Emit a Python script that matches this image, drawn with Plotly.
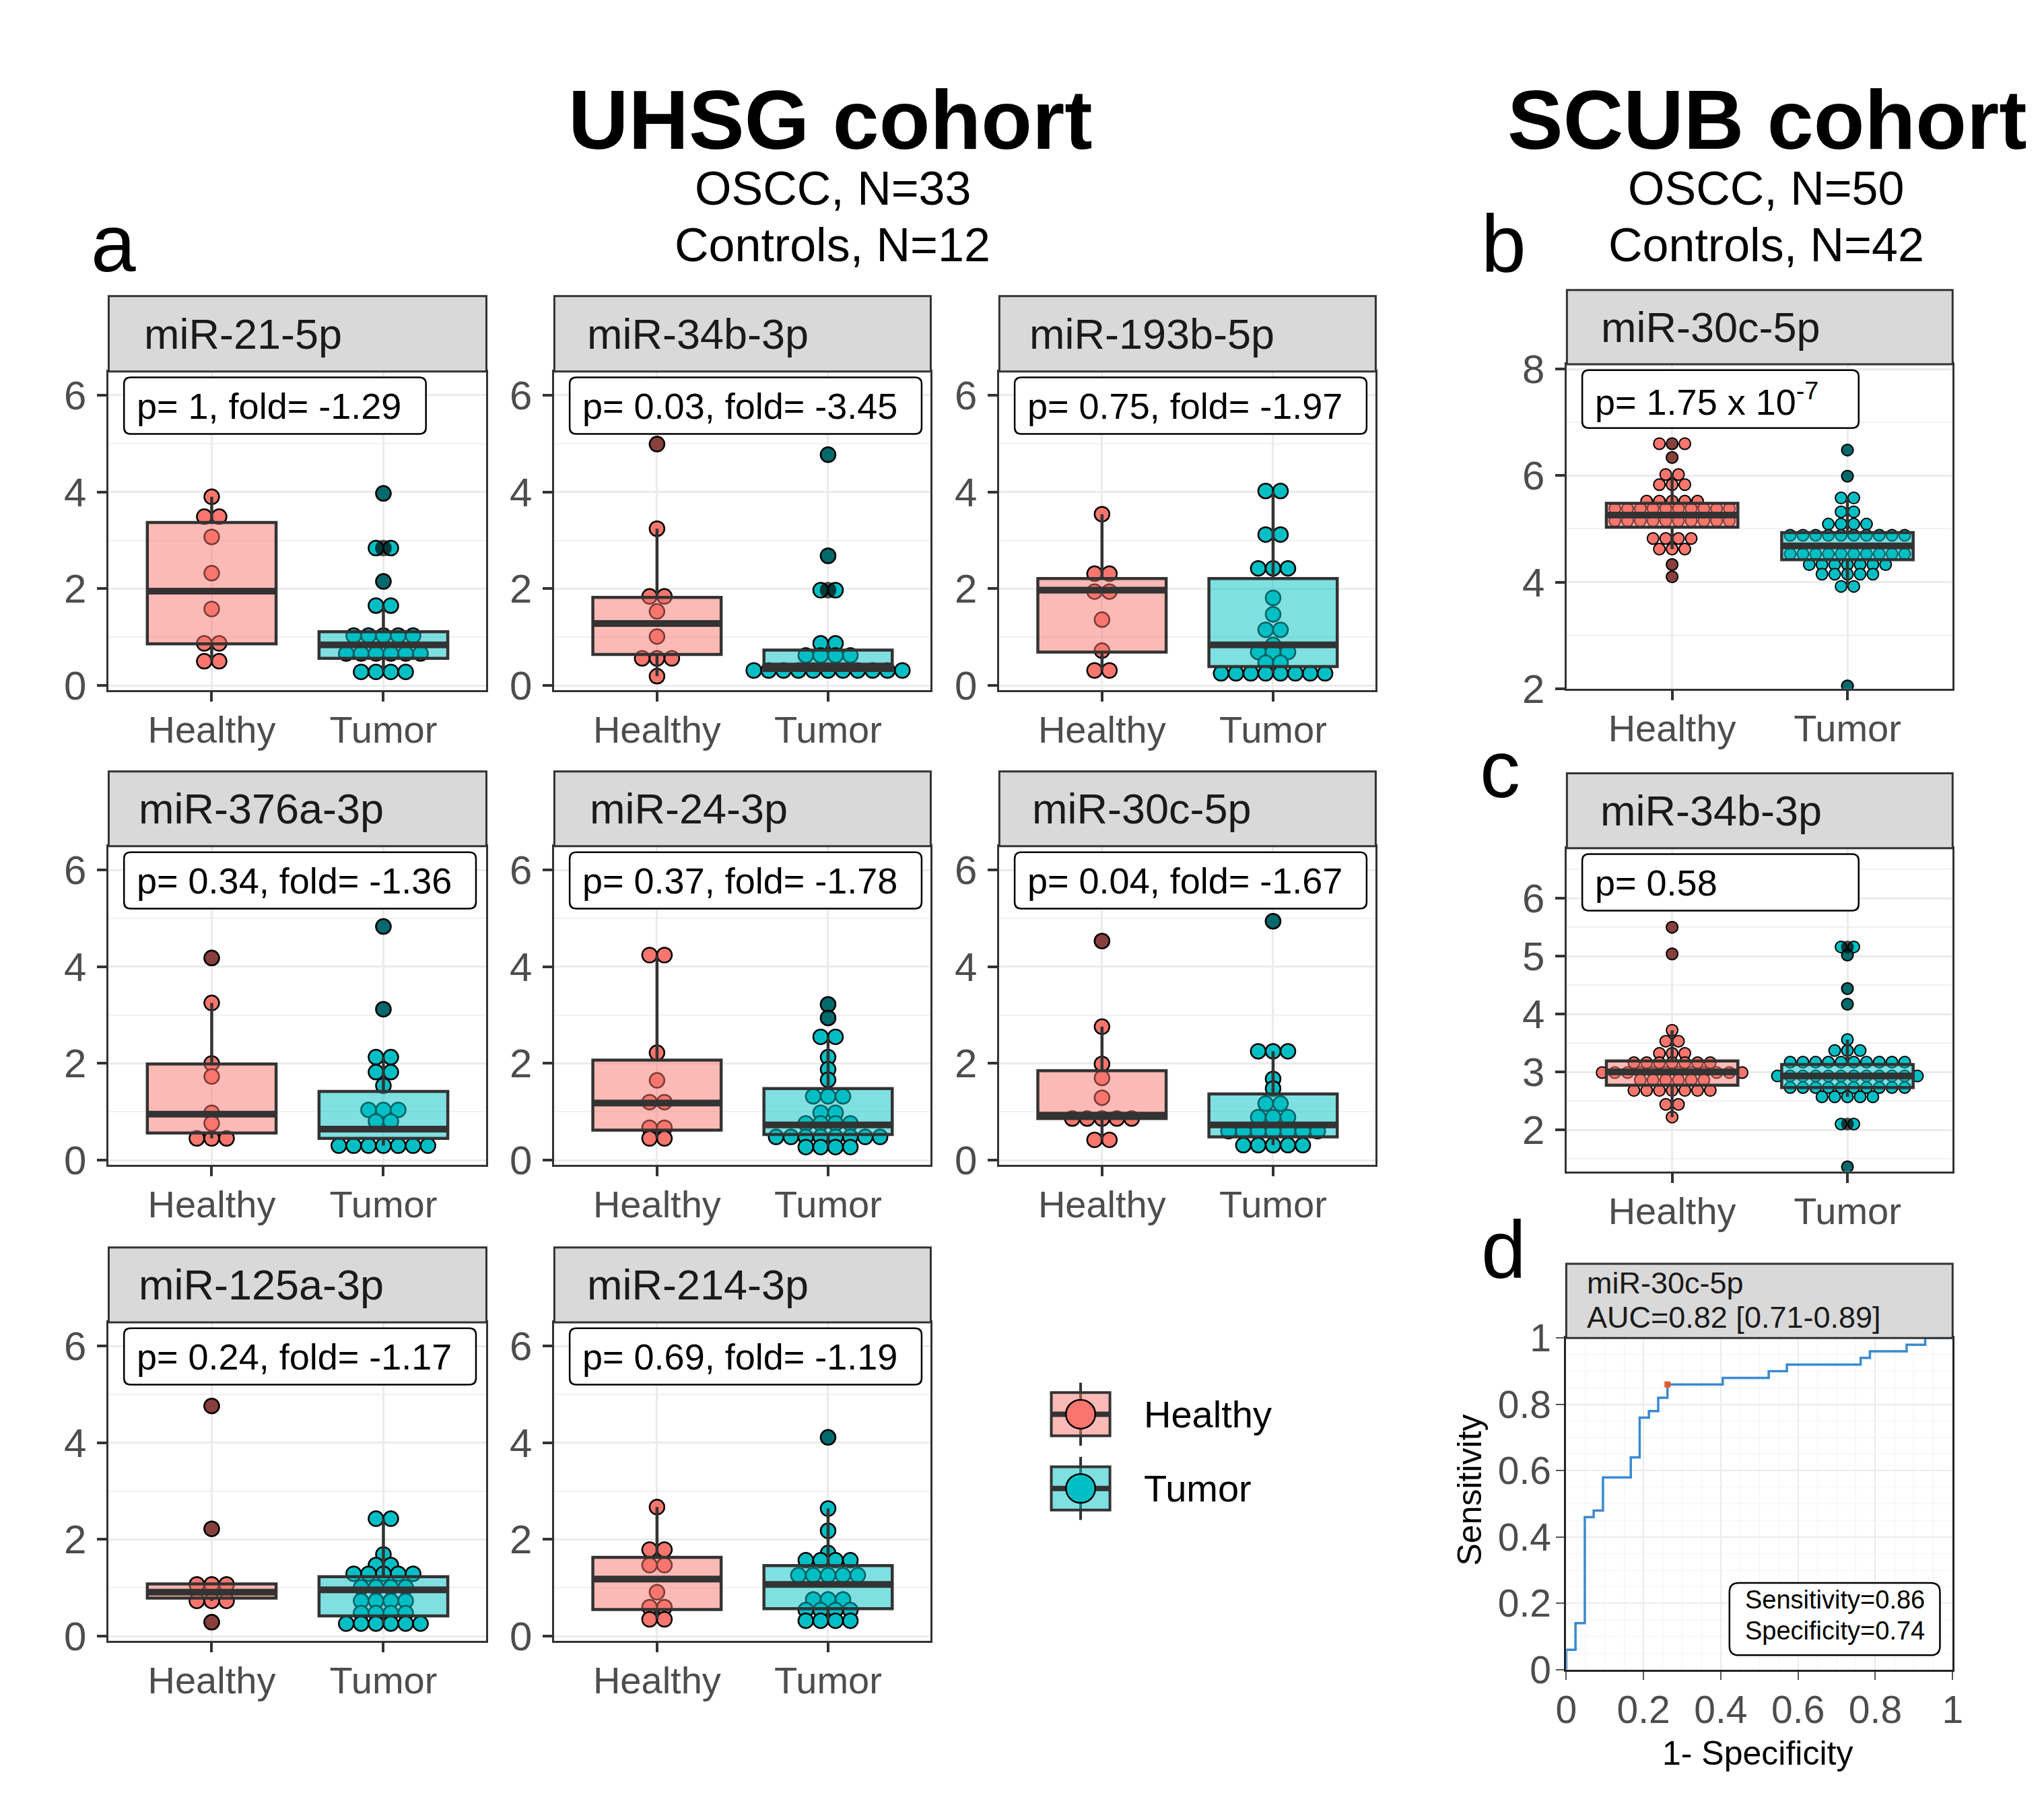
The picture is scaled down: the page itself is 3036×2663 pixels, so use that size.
import plotly.graph_objects as go

# ------------------------------------------------------------------ data
groups = ["Healthy", "Tumor"]

# UHSG cohort (panel a) -- facet titles and annotation values
uhsg_mirs = ["miR-21-5p", "miR-34b-3p", "miR-193b-5p", "miR-376a-3p",
             "miR-24-3p", "miR-30c-5p", "miR-125a-3p", "miR-214-3p"]
uhsg_p = ["1", "0.03", "0.75", "0.34", "0.37", "0.04", "0.24", "0.69"]
uhsg_fold = ["-1.29", "-3.45", "-1.97", "-1.36", "-1.78", "-1.67", "-1.17", "-1.19"]

# dot-plot bins: (value, number of stacked dots)
miR21_H_bins = [(3.90, 1), (3.49, 2), (3.07, 1), (2.32, 1), (1.58, 1), (0.87, 2), (0.50, 2)]
miR21_T_bins = [(3.97, 1), (2.84, 2), (2.15, 1), (1.65, 2), (1.03, 5), (0.66, 6), (0.28, 4)]
miR34b_H_bins = [(4.99, 1), (3.24, 1), (1.84, 2), (1.53, 1), (1.01, 1), (0.56, 3), (0.19, 1)]
miR34b_T_bins = [(4.77, 1), (2.68, 1), (1.97, 2), (0.87, 2), (0.62, 4), (0.31, 11)]
miR193b_H_bins = [(3.54, 1), (2.31, 2), (1.94, 2), (1.36, 1), (0.72, 1), (0.31, 2)]
miR193b_T_bins = [(4.02, 2), (3.12, 2), (2.42, 3), (1.81, 1), (1.47, 1), (1.15, 2), (0.84, 1),
                  (0.69, 3), (0.47, 2), (0.25, 8)]
miR376a_H_bins = [(4.18, 1), (3.25, 1), (2.00, 1), (1.73, 1), (0.98, 1), (0.76, 1), (0.45, 3)]
miR376a_T_bins = [(4.83, 1), (3.12, 1), (2.13, 2), (1.82, 2), (1.54, 1), (1.04, 3), (0.80, 2), (0.30, 7)]
miR24_H_bins = [(4.24, 2), (2.22, 1), (1.65, 1), (1.20, 2), (0.67, 2), (0.45, 2)]
miR24_T_bins = [(3.22, 1), (2.94, 1), (2.55, 2), (2.13, 1), (1.88, 1), (1.66, 1), (1.32, 3),
                (0.98, 2), (0.76, 4), (0.48, 8), (0.27, 4)]
miR30c_H_bins = [(4.53, 1), (2.76, 1), (1.99, 1), (1.70, 1), (1.29, 1), (0.86, 5), (0.42, 2)]
miR30c_T_bins = [(4.94, 1), (2.25, 3), (1.68, 1), (1.48, 1), (1.17, 2), (0.89, 3), (0.60, 7), (0.31, 5)]
miR125a_H_bins = [(4.76, 1), (2.22, 1), (1.07, 3), (0.73, 3), (0.29, 1)]
miR125a_T_bins = [(2.43, 2), (1.69, 1), (1.47, 2), (1.29, 5), (1.01, 4), (0.73, 4), (0.48, 4), (0.26, 6)]
miR214_H_bins = [(2.67, 1), (1.79, 2), (1.47, 2), (0.91, 1), (0.60, 2), (0.35, 2)]
miR214_T_bins = [(4.11, 1), (2.64, 1), (2.18, 1), (1.72, 1), (1.57, 4), (1.26, 5), (0.76, 3),
                 (0.54, 4), (0.32, 4)]

# box statistics: [lower whisker, Q1, median, Q3, upper whisker]
miR21_H_box = [0.50, 0.86, 1.95, 3.37, 3.90]
miR21_T_box = [0.28, 0.56, 0.84, 1.11, 1.65]
miR34b_H_box = [0.19, 0.64, 1.28, 1.82, 3.24]
miR34b_T_box = [0.31, 0.31, 0.40, 0.73, 0.87]
miR193b_H_box = [0.31, 0.69, 1.97, 2.21, 3.54]
miR193b_T_box = [0.25, 0.39, 0.84, 2.21, 4.02]
miR376a_H_box = [0.45, 0.56, 0.95, 1.99, 3.25]
miR376a_T_box = [0.30, 0.45, 0.64, 1.42, 2.13]
miR24_H_box = [0.45, 0.62, 1.18, 2.07, 4.24]
miR24_T_box = [0.27, 0.53, 0.73, 1.48, 2.55]
miR30c_H_box = [0.42, 0.86, 0.93, 1.85, 2.76]
miR30c_T_box = [0.31, 0.48, 0.73, 1.37, 2.25]
miR125a_H_box = [0.73, 0.79, 0.91, 1.08, 1.08]
miR125a_T_box = [0.26, 0.42, 0.96, 1.23, 2.43]
miR214_H_box = [0.35, 0.55, 1.18, 1.63, 2.67]
miR214_T_box = [0.32, 0.57, 1.07, 1.46, 2.64]

# box-plot outliers
miR21_H_out, miR21_T_out = [], [3.97, 2.84, 2.84, 2.15]
miR34b_H_out, miR34b_T_out = [4.99], [4.77, 2.68, 1.97, 1.97]
miR193b_H_out, miR193b_T_out = [], []
miR376a_H_out, miR376a_T_out = [4.18], [4.83, 3.12]
miR24_H_out, miR24_T_out = [], [3.22, 2.94]
miR30c_H_out, miR30c_T_out = [4.53], [4.94]
miR125a_H_out, miR125a_T_out = [4.76, 2.22, 0.29], []
miR214_H_out, miR214_T_out = [], [4.11]

# SCUB cohort (panels b, c)
scub_mirs = ["miR-30c-5p", "miR-34b-3p"]
scub_labels = ["p= 1.75 x 10<sup>-7</sup>", "p= 0.58"]
scub30c_H_bins = [(6.60, 3), (6.34, 1), (6.02, 2), (5.83, 3), (5.52, 5), (5.38, 10), (5.15, 10),
                  (4.82, 4), (4.62, 3), (4.33, 1), (4.10, 1)]
scub30c_T_bins = [(6.48, 1), (5.99, 1), (5.58, 2), (5.32, 2), (5.09, 4), (4.88, 10), (4.53, 10),
                  (4.33, 7), (4.15, 5), (3.92, 2), (2.05, 1)]
scub30c_H_box = [4.62, 5.03, 5.26, 5.48, 6.02]
scub30c_T_box = [3.92, 4.42, 4.68, 4.93, 5.58]
scub30c_H_out = [6.60, 6.34, 4.33, 4.10]
scub30c_T_out = [6.48, 5.99, 2.05]
scub34b_H_bins = [(5.50, 1), (5.04, 1), (3.72, 1), (3.53, 2), (3.32, 3), (3.16, 7), (2.99, 12),
                  (2.86, 6), (2.68, 7), (2.44, 2), (2.22, 1)]
scub34b_T_bins = [(5.16, 2), (5.02, 1), (4.44, 1), (4.17, 1), (3.56, 1), (3.37, 3), (3.17, 10),
                  (2.93, 12), (2.73, 10), (2.57, 5), (2.10, 2), (1.36, 1)]
scub34b_H_box = [2.22, 2.77, 3.00, 3.19, 3.72]
scub34b_T_box = [2.57, 2.73, 2.93, 3.13, 3.56]
scub34b_H_out = [5.50, 5.04]
scub34b_T_out = [5.16, 5.16, 5.02, 4.44, 4.17, 2.10, 2.10, 1.36]

# ROC (panel d)
roc_fpr = [0, 0, 0.024, 0.048, 0.071, 0.095, 0.167, 0.190, 0.214, 0.238, 0.262,
           0.405, 0.524, 0.571, 0.762, 0.786, 0.881, 0.929, 1.0]
roc_tpr = [0, 0.06, 0.14, 0.46, 0.48, 0.58, 0.64, 0.76, 0.78, 0.82, 0.86,
           0.88, 0.90, 0.92, 0.94, 0.96, 0.98, 1.0, 1.0]
roc_cut = (0.262, 0.86)
roc_title = ["miR-30c-5p", "AUC=0.82 [0.71-0.89]"]
roc_stats = ["Sensitivity=0.86", "Specificity=0.74"]

# ------------------------------------------------------------------ style / helpers
W, H = 3036, 2663
FONT = "Liberation Sans, Arial, Helvetica, sans-serif"
RED, TEAL = "#F8766D", "#00BFC4"
RED_A, TEAL_A = "rgba(248,118,109,0.5)", "rgba(0,191,196,0.5)"
DARK = "#333333"
GRID, GRID2 = "#EBEBEB", "#F1F1F1"
TICKC = "#4D4D4D"

AW = {' ': 278, '-': 333, '.': 278, ',': 278, '=': 584, '[': 278, ']': 278, 'x': 500,
      'a': 556, 'b': 556, 'c': 500, 'd': 556, 'e': 556, 'f': 278, 'i': 222, 'l': 222,
      'm': 833, 'o': 556, 'p': 556, 'R': 722}


def text_w(s, size):
    return sum(AW.get(c, 556) for c in s) * size / 1000.0


def fx(x):
    return x / W


def fy(y):
    return 1 - y / H


def P(x, y):
    return f"{fx(x):.6f},{fy(y):.6f}"


def rrect(x0, y0, x1, y1, r, lw=2.5):
    path = (f"M {P(x0 + r, y0)} L {P(x1 - r, y0)} Q {P(x1, y0)} {P(x1, y0 + r)} "
            f"L {P(x1, y1 - r)} Q {P(x1, y1)} {P(x1 - r, y1)} L {P(x0 + r, y1)} "
            f"Q {P(x0, y1)} {P(x0, y1 - r)} L {P(x0, y0 + r)} Q {P(x0, y0)} {P(x0 + r, y0)} Z")
    return dict(type="path", xref="paper", yref="paper", path=path, fillcolor="white",
                line=dict(color="black", width=lw), layer="above")


def names(kind, n):
    return (f"{kind}axis" if n == 1 else f"{kind}axis{n}"), (kind if n == 1 else f"{kind}{n}")


layout = {}
traces = []
shapes = []
annotations = []


def ann(text, x, y, size, color="black", xanchor="left", **kw):
    d = dict(text=text, x=fx(x), y=fy(y), xref="paper", yref="paper", xanchor=xanchor,
             yanchor="middle", showarrow=False, font=dict(size=size, color=color, family=FONT))
    d.update(kw)
    annotations.append(d)


def box_panel(i, geom, ylim, major, minor, title, label, label_w, label_h, bins, boxes, outs,
              dot_size, dot_step, dot_lw, strip_font):
    x0, x1, st, pt, pb = geom
    xk, xr = names("x", i)
    yk, yr = names("y", 2 * i - 1)
    ok, orf = names("y", 2 * i)
    layout[xk] = dict(domain=[fx(x0), fx(x1)], anchor=yr, range=[0.4, 2.6], tickmode="array",
                      tickvals=[1, 2], ticktext=groups, showgrid=True, gridcolor=GRID, gridwidth=3,
                      showline=True, mirror=True, linecolor=DARK, linewidth=3, ticks="outside",
                      ticklen=14, tickwidth=4, tickcolor=DARK, zeroline=False,
                      ticklabelstandoff=-6,
                      tickfont=dict(size=56, color=TICKC, family=FONT))
    layout[yk] = dict(domain=[fy(pb), fy(pt)], anchor=xr, range=ylim, tick0=0, dtick=major,
                      showgrid=True, gridcolor=GRID, gridwidth=3, zeroline=False,
                      showline=True, mirror=True, linecolor=DARK, linewidth=3,
                      ticks="outside", ticklen=14, tickwidth=4, tickcolor=DARK,
                      ticklabelstandoff=4,
                      tickfont=dict(size=60, color=TICKC, family=FONT),
                      minor=dict(dtick=minor, showgrid=True, gridcolor=GRID2, gridwidth=2, ticks=""))
    layout[ok] = dict(overlaying=yr, anchor=xr, range=ylim, visible=False)

    step = dot_step / ((x1 - x0) / 2.2)
    for cx, b, col in zip([1, 2], bins, [RED, TEAL]):
        xs, ys = [], []
        for v, n in b:
            for k in range(n):
                xs.append(cx + (k - (n - 1) / 2) * step)
                ys.append(v)
        traces.append(go.Scatter(x=xs, y=ys, mode="markers", xaxis=xr, yaxis=yr, hoverinfo="skip",
                                 marker=dict(size=dot_size, color=col,
                                             line=dict(color="black", width=dot_lw))))
    for cx, bx, fill, out in zip([1, 2], boxes, [RED_A, TEAL_A], outs):
        lf, q1, med, q3, uf = bx
        traces.append(go.Box(x=[cx], lowerfence=[lf], q1=[q1], median=[med], q3=[q3],
                             upperfence=[uf], width=0.75, whiskerwidth=0, fillcolor=fill,
                             line=dict(color=DARK, width=4.5), boxpoints=False, orientation="v",
                             xaxis=xr, yaxis=orf, hoverinfo="skip"))
        traces.append(go.Scatter(x=[cx - 0.375, cx + 0.375], y=[med, med], mode="lines",
                                 line=dict(color=DARK, width=10), xaxis=xr, yaxis=orf,
                                 hoverinfo="skip"))
        if out:
            traces.append(go.Scatter(x=[cx] * len(out), y=out, mode="markers", xaxis=xr, yaxis=orf,
                                     hoverinfo="skip",
                                     marker=dict(size=dot_size + dot_lw, color="rgba(0,0,0,0.45)",
                                                 line=dict(width=0))))
    # strip
    shapes.append(dict(type="rect", xref="paper", yref="paper", x0=fx(x0), x1=fx(x1),
                       y0=fy(pt), y1=fy(st), fillcolor="#D9D9D9",
                       line=dict(color=DARK, width=3), layer="above"))
    tw = text_w(title, strip_font)
    ann(title, x0 + 19 + 0.118 * ((x1 - x0) - tw), (st + pt) / 2, strip_font, color="#1A1A1A")
    # p-value label
    bw = label_w if label_w else text_w(label, 54) + 60
    bx0 = x0 + 23
    by0 = pt + 9
    shapes.append(rrect(bx0, by0, bx0 + bw, by0 + label_h, 10))
    ann(label, bx0 + 17, by0 + label_h / 2, 54)


# ------------------------------------------------------------------ panel a (UHSG)
uhsg_cols = [(147, 714), (816, 1381), (1484, 2049)]
uhsg_rows = [(418, 533, 1018), (1142, 1256, 1741), (1867, 1981, 2466)]
uhsg_bins = [(miR21_H_bins, miR21_T_bins), (miR34b_H_bins, miR34b_T_bins),
             (miR193b_H_bins, miR193b_T_bins), (miR376a_H_bins, miR376a_T_bins),
             (miR24_H_bins, miR24_T_bins), (miR30c_H_bins, miR30c_T_bins),
             (miR125a_H_bins, miR125a_T_bins), (miR214_H_bins, miR214_T_bins)]
uhsg_boxes = [(miR21_H_box, miR21_T_box), (miR34b_H_box, miR34b_T_box),
              (miR193b_H_box, miR193b_T_box), (miR376a_H_box, miR376a_T_box),
              (miR24_H_box, miR24_T_box), (miR30c_H_box, miR30c_T_box),
              (miR125a_H_box, miR125a_T_box), (miR214_H_box, miR214_T_box)]
uhsg_outs = [(miR21_H_out, miR21_T_out), (miR34b_H_out, miR34b_T_out),
             (miR193b_H_out, miR193b_T_out), (miR376a_H_out, miR376a_T_out),
             (miR24_H_out, miR24_T_out), (miR30c_H_out, miR30c_T_out),
             (miR125a_H_out, miR125a_T_out), (miR214_H_out, miR214_T_out)]

for k in range(len(uhsg_mirs)):
    r, c = divmod(k, 3)
    st, pt, pb = uhsg_rows[r]
    x0, x1 = uhsg_cols[c]
    label = f"p= {uhsg_p[k]}, fold= {uhsg_fold[k]}"
    box_panel(k + 1, (x0, x1, st, pt, pb), [-0.094, 6.49], 2, 1, uhsg_mirs[k], label, None, 86,
              uhsg_bins[k], uhsg_boxes[k], uhsg_outs[k], 22, 22.3, 2.5, 63)

# ------------------------------------------------------------------ panels b, c (SCUB)
box_panel(9, (2336, 2915, 409, 522, 1016), [1.999, 8.09], 2, 1, scub_mirs[0], scub_labels[0], 415, 88,
          (scub30c_H_bins, scub30c_T_bins), (scub30c_H_box, scub30c_T_box),
          (scub30c_H_out, scub30c_T_out), 17, 19.1, 2, 63)
box_panel(10, (2336, 2915, 1145, 1259, 1751), [1.284, 6.865], 1, 0.5, scub_mirs[1], scub_labels[1], 415, 86,
          (scub34b_H_bins, scub34b_T_bins), (scub34b_H_box, scub34b_T_box),
          (scub34b_H_out, scub34b_T_out), 17, 19.1, 2, 63)

# ------------------------------------------------------------------ panel d (ROC)
rx0, rx1, rst, rpt, rpb = 2335, 2915, 1892, 2005, 2510
roc_axis = dict(range=[0, 1], dtick=0.2, showgrid=True, gridcolor=GRID, gridwidth=2, zeroline=False,
                showline=True, mirror=True, linecolor="#222222", linewidth=3,
                ticks="outside", ticklen=12, tickwidth=2, tickcolor="#555555",
                tickfont=dict(size=57, color=TICKC, family=FONT),
                minor=dict(dtick=0.05, showgrid=True, gridcolor="#F4F4F4", gridwidth=1))
layout["xaxis11"] = dict(domain=[fx(rx0), fx(rx1)], anchor="y21", ticklabelstandoff=-4, **roc_axis)
layout["yaxis21"] = dict(domain=[fy(rpb), fy(rpt)], anchor="x11", ticklabelstandoff=-4, **roc_axis)
traces.append(go.Scatter(x=roc_fpr, y=roc_tpr, mode="lines", line=dict(shape="hv", color="#3A8AD2", width=3.5),
                         xaxis="x11", yaxis="y21", hoverinfo="skip"))
traces.append(go.Scatter(x=[roc_cut[0]], y=[roc_cut[1]], mode="markers",
                         marker=dict(symbol="square", size=9, color="#E0592A"),
                         xaxis="x11", yaxis="y21", hoverinfo="skip"))
shapes.append(dict(type="rect", xref="paper", yref="paper", x0=fx(rx0), x1=fx(rx1),
                   y0=fy(rpt), y1=fy(rst), fillcolor="#D9D9D9", line=dict(color=DARK, width=3),
                   layer="above"))
ann(roc_title[0], 2364, 1921, 45, color="#1A1A1A")
ann(roc_title[1], 2364, 1973, 45, color="#1A1A1A")
shapes.append(rrect(2580, 2378, 2896, 2488, 14))
ann(roc_stats[0], 2601, 2404, 38)
ann(roc_stats[1], 2601, 2451, 38)
ann("Sensitivity", 2190, 2236, 50, xanchor="center", textangle=-90)
ann("1- Specificity", 2622, 2637, 50, xanchor="center")

# ------------------------------------------------------------------ legend
for gname, fill, col, cy in [("Healthy", RED_A, RED, 2121), ("Tumor", TEAL_A, TEAL, 2234)]:
    cx = 1606
    shapes.append(dict(type="line", xref="paper", yref="paper", x0=fx(cx), x1=fx(cx),
                       y0=fy(cy - 48), y1=fy(cy + 48), line=dict(color=DARK, width=4)))
    shapes.append(dict(type="rect", xref="paper", yref="paper", x0=fx(cx - 44), x1=fx(cx + 44),
                       y0=fy(cy + 33), y1=fy(cy - 33), fillcolor=fill, line=dict(color=DARK, width=4)))
    shapes.append(dict(type="line", xref="paper", yref="paper", x0=fx(cx - 44), x1=fx(cx + 44),
                       y0=fy(cy), y1=fy(cy), line=dict(color=DARK, width=8)))
    shapes.append(dict(type="circle", xref="paper", yref="paper", x0=fx(cx - 22), x1=fx(cx + 22),
                       y0=fy(cy + 22), y1=fy(cy - 22), fillcolor=col, line=dict(color="black", width=2.5)))
    ann(gname, 1699, cy, 56)

# ------------------------------------------------------------------ titles / letters
ann("<b>UHSG cohort</b>", 1230, 150, 124, xanchor="center")
ann("OSCC, N=33", 1234, 254, 70, xanchor="center")
ann("Controls, N=12", 1234, 340, 70, xanchor="center")
ann("<b>SCUB cohort</b>", 2637, 150, 124, xanchor="center")
ann("OSCC, N=50", 2635, 254, 70, xanchor="center")
ann("Controls, N=42", 2635, 340, 70, xanchor="center")
ann("a", 118, 337, 120)
ann("b", 2205, 337, 120)
ann("c", 2203, 1138, 120)
ann("d", 2205, 1869, 120)

fig = go.Figure(data=traces)
fig.update_layout(**layout)
fig.update_layout(width=W, height=H, margin=dict(l=0, r=0, t=0, b=0), autosize=False,
                  paper_bgcolor="white", plot_bgcolor="white", showlegend=False,
                  font=dict(family=FONT), shapes=shapes, annotations=annotations,
                  boxmode="overlay")
fig.write_html("out.html", config={"displayModeBar": False},
               post_script="document.body.style.margin='0px';document.body.style.overflow='hidden';")
